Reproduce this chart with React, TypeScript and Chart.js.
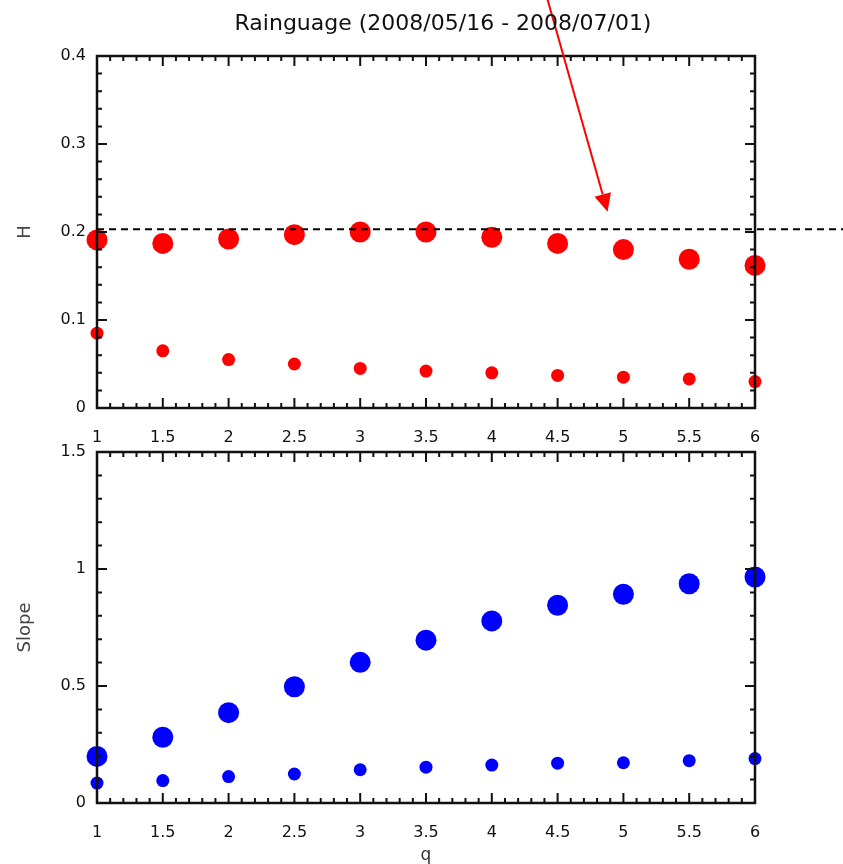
import React, { useEffect, useRef } from 'react';
import { Chart, registerables } from 'chart.js';

Chart.register(...registerables);

// ---- data ----
const Q = [1, 1.5, 2, 2.5, 3, 3.5, 4, 4.5, 5, 5.5, 6];
const H_LARGE = [0.191, 0.187, 0.192, 0.197, 0.2, 0.2, 0.194, 0.187, 0.18, 0.169, 0.162];
const H_SMALL = [0.085, 0.065, 0.055, 0.05, 0.045, 0.042, 0.04, 0.037, 0.035, 0.033, 0.03];
const SLOPE_LARGE = [0.199, 0.281, 0.386, 0.497, 0.601, 0.696, 0.778, 0.845, 0.892, 0.937, 0.966];
const SLOPE_SMALL = [0.085, 0.096, 0.113, 0.124, 0.142, 0.153, 0.162, 0.17, 0.172, 0.181, 0.19];
const H_REFERENCE = 0.203;
const ARROW_FROM = { q: 4.42, h: 0.466 };
const ARROW_TO = { q: 4.88, h: 0.223 };
const TITLE = 'Rainguage (2008/05/16 - 2008/07/01)';
const X_LABEL = 'q';
const Y_LABEL_TOP = 'H';
const Y_LABEL_BOTTOM = 'Slope';

const FONT = "'DejaVu Sans', sans-serif";

const pts = (ys: number[]) => Q.map((q, i) => ({ x: q, y: ys[i] }));
const fmt = (v: any) => String(Math.round(Number(v) * 1000) / 1000);

function drawFrame(chart: any, yMinor: number, yMajor: number) {
  const { ctx, chartArea: a, scales } = chart;
  const xs = scales.x;
  const ys = scales.y;
  ctx.save();
  ctx.strokeStyle = '#111';
  ctx.lineWidth = 2;
  ctx.beginPath();
  const nx = Math.round((xs.max - xs.min) / 0.1);
  for (let i = 0; i <= nx; i++) {
    const p = xs.getPixelForValue(xs.min + i * 0.1);
    const len = i % 5 === 0 ? 10 : 5;
    ctx.moveTo(p, a.bottom);
    ctx.lineTo(p, a.bottom - len);
    ctx.moveTo(p, a.top);
    ctx.lineTo(p, a.top + len);
  }
  const ny = Math.round((ys.max - ys.min) / yMinor);
  const per = Math.round(yMajor / yMinor);
  for (let i = 0; i <= ny; i++) {
    const p = ys.getPixelForValue(ys.min + i * yMinor);
    const len = i % per === 0 ? 10 : 5;
    ctx.moveTo(a.left, p);
    ctx.lineTo(a.left + len, p);
    ctx.moveTo(a.right, p);
    ctx.lineTo(a.right - len, p);
  }
  ctx.stroke();
  ctx.lineWidth = 2.5;
  ctx.strokeRect(a.left, a.top, a.right - a.left, a.bottom - a.top);
  ctx.restore();
}

const topFramePlugin = {
  id: 'topFrame',
  afterDatasetsDraw(chart: any) {
    const { ctx, chartArea: a, scales } = chart;
    const xs = scales.x;
    const ys = scales.y;
    // dashed reference line
    ctx.save();
    const yRef = ys.getPixelForValue(H_REFERENCE);
    ctx.strokeStyle = '#000';
    ctx.lineWidth = 2;
    ctx.setLineDash([7, 5]);
    ctx.beginPath();
    ctx.moveTo(a.left, yRef);
    ctx.lineTo(chart.width, yRef);
    ctx.stroke();
    ctx.restore();

    drawFrame(chart, 0.02, 0.1);

    // arrow
    const x0 = xs.getPixelForValue(ARROW_FROM.q);
    const y0 = ys.getPixelForValue(ARROW_FROM.h);
    const x1 = xs.getPixelForValue(ARROW_TO.q);
    const y1 = ys.getPixelForValue(ARROW_TO.h);
    const ang = Math.atan2(y1 - y0, x1 - x0);
    const headLen = 18;
    const headHalf = 8.5;
    const bx = x1 - headLen * Math.cos(ang);
    const by = y1 - headLen * Math.sin(ang);
    ctx.save();
    ctx.strokeStyle = '#ff0000';
    ctx.fillStyle = '#ff0000';
    ctx.lineWidth = 2;
    ctx.beginPath();
    ctx.moveTo(x0, y0);
    ctx.lineTo(bx, by);
    ctx.stroke();
    ctx.beginPath();
    ctx.moveTo(x1, y1);
    ctx.lineTo(bx + headHalf * Math.sin(ang), by - headHalf * Math.cos(ang));
    ctx.lineTo(bx - headHalf * Math.sin(ang), by + headHalf * Math.cos(ang));
    ctx.closePath();
    ctx.fill();
    ctx.restore();

    // title
    ctx.save();
    ctx.font = `22px ${FONT}`;
    ctx.fillStyle = '#111';
    ctx.textAlign = 'center';
    ctx.textBaseline = 'alphabetic';
    ctx.fillText(TITLE, 443, 29.5);
    ctx.restore();
  },
};

const bottomFramePlugin = {
  id: 'bottomFrame',
  afterDatasetsDraw(chart: any) {
    drawFrame(chart, 0.1, 0.5);
  },
};

function makeOptions(opts: {
  yMax: number;
  yStep: number;
  yTitle: string;
  padding: any;
  xHeight: number;
  xTitle?: string;
}) {
  return {
    responsive: false,
    animation: false as const,
    devicePixelRatio: 1,
    events: [] as any[],
    layout: { padding: opts.padding },
    plugins: { legend: { display: false }, tooltip: { enabled: false }, title: { display: false } },
    scales: {
      x: {
        type: 'linear' as const,
        position: 'bottom' as const,
        min: 1,
        max: 6,
        grid: { display: false, drawTicks: false },
        border: { display: false },
        ticks: {
          stepSize: 0.5,
          autoSkip: false,
          maxRotation: 0,
          padding: 20,
          color: '#111',
          font: { family: FONT, size: 16 },
          callback: fmt,
        },
        title: opts.xTitle
          ? {
              display: true,
              text: opts.xTitle,
              color: '#333',
              font: { family: FONT, size: 17 },
              padding: { top: 0, bottom: -2 },
            }
          : { display: false },
        afterFit: (s: any) => {
          s.height = opts.xHeight;
        },
      },
      y: {
        type: 'linear' as const,
        position: 'left' as const,
        min: 0,
        max: opts.yMax,
        grid: { display: false, drawTicks: false },
        border: { display: false },
        ticks: {
          stepSize: opts.yStep,
          autoSkip: false,
          padding: 11,
          color: '#111',
          font: { family: FONT, size: 16 },
          callback: fmt,
        },
        title: {
          display: true,
          text: opts.yTitle,
          color: '#444',
          font: { family: FONT, size: 18 },
          padding: { top: 15, bottom: 0 },
        },
        afterFit: (s: any) => {
          s.width = 97;
        },
      },
    },
  };
}

export default function App() {
  const topRef = useRef<HTMLCanvasElement>(null);
  const bottomRef = useRef<HTMLCanvasElement>(null);

  useEffect(() => {
    const red = '#ff0000';
    const blue = '#0000ff';
    const c1 = new Chart(topRef.current!, {
      type: 'scatter',
      data: {
        datasets: [
          { data: pts(H_LARGE), pointRadius: 10.5, backgroundColor: red, borderWidth: 0, clip: false as any },
          { data: pts(H_SMALL), pointRadius: 6.5, backgroundColor: red, borderWidth: 0, clip: false as any },
        ],
      },
      options: makeOptions({
        yMax: 0.4,
        yStep: 0.1,
        yTitle: Y_LABEL_TOP,
        padding: { left: 0, right: 88, top: 56, bottom: 419 },
        xHeight: 37,
      }) as any,
      plugins: [topFramePlugin],
    });
    const c2 = new Chart(bottomRef.current!, {
      type: 'scatter',
      data: {
        datasets: [
          { data: pts(SLOPE_LARGE), pointRadius: 10.5, backgroundColor: blue, borderWidth: 0, clip: false as any },
          { data: pts(SLOPE_SMALL), pointRadius: 6.5, backgroundColor: blue, borderWidth: 0, clip: false as any },
        ],
      },
      options: makeOptions({
        yMax: 1.5,
        yStep: 0.5,
        yTitle: Y_LABEL_BOTTOM,
        padding: { left: 0, right: 88, top: 452, bottom: 0 },
        xHeight: 61,
        xTitle: X_LABEL,
      }) as any,
      plugins: [bottomFramePlugin],
    });
    return () => {
      c1.destroy();
      c2.destroy();
    };
  }, []);

  return (
    <div style={{ position: 'absolute', left: 0, top: 0, width: 843, height: 864, background: '#fff' }}>
      <canvas ref={topRef} width={843} height={864} style={{ position: 'absolute', left: 0, top: 0 }} />
      <canvas ref={bottomRef} width={843} height={864} style={{ position: 'absolute', left: 0, top: 0 }} />
    </div>
  );
}
